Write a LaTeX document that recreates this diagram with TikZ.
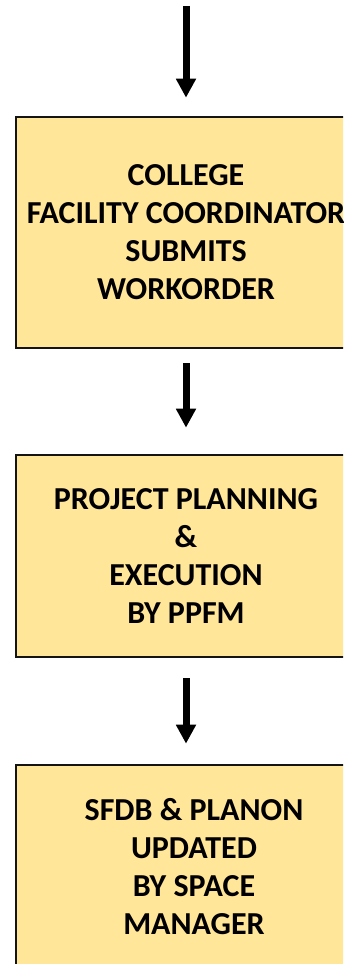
\documentclass[tikz,border=0pt]{standalone}
\usepackage{fontspec}
\setmainfont{Carlito}
\usetikzlibrary{arrows.meta}
\definecolor{boxfill}{RGB}{255,230,153}
\definecolor{boxline}{RGB}{20,20,20}
\begin{document}
\begin{tikzpicture}[x=1pt,y=1pt,
  stepbox/.style={draw=boxline, fill=boxfill, line width=2.6pt, inner sep=0pt,
    align=center, font=\fontsize{32pt}{38pt}\selectfont\bfseries},
  flow/.style={line width=7pt, -{Triangle[width=19pt,length=19pt]}}]
\useasboundingbox (0,0) rectangle (343,964);
\clip (0,0) rectangle (343,964);

% process steps
\node[stepbox, minimum width=340pt, minimum height=231pt] (box1) at (186,731.5)
  {COLLEGE\\FACILITY COORDINATOR\\SUBMITS\\WORKORDER};
\node[stepbox, minimum width=340pt, minimum height=202pt] (box2) at (186,408)
  {PROJECT PLANNING\\\&\\EXECUTION\\BY PPFM};
\node[stepbox, minimum width=356pt, minimum height=204pt] (box3) at (194,97)
  {SFDB \& PLANON\\UPDATED\\BY SPACE\\MANAGER};

% flow arrows
\coordinate (src) at (186,958);
\draw[flow] (src) -- ([yshift=18pt]box1.north);
\draw[flow] ([yshift=-14pt]box1.south) -- ([yshift=26pt]box2.north);
\draw[flow] ([yshift=-20pt]box2.south) -- ([xshift=-8pt,yshift=20pt]box3.north);
\end{tikzpicture}
\end{document}
